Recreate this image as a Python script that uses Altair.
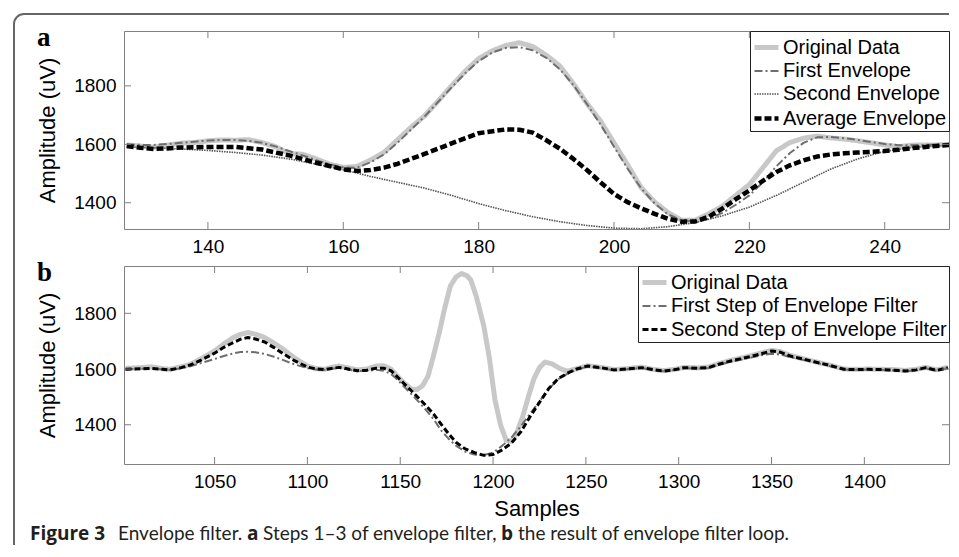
import altair as alt
import pandas as pd

# ---------------- Panel a data ----------------
A_X = list(range(128, 251, 2))
A_ORIG = [1598, 1594, 1590, 1597, 1604, 1606, 1612, 1615, 1614, 1616,
          1606, 1592, 1568, 1566, 1550, 1532, 1521, 1524, 1546, 1572,
          1615, 1658, 1697, 1748, 1800, 1850, 1893, 1920, 1938, 1948,
          1935, 1905, 1868, 1808, 1740, 1680, 1605, 1530, 1452, 1403,
          1366, 1340, 1340, 1362, 1388, 1425, 1462, 1520, 1578, 1606,
          1621, 1628, 1622, 1618, 1612, 1605, 1598, 1592, 1597, 1598,
          1598, 1600]
A_FIRST = [1600, 1598, 1598, 1601, 1605, 1609, 1613, 1615, 1615, 1612,
           1605, 1593, 1577, 1562, 1546, 1531, 1521, 1520, 1538, 1565,
           1605, 1650, 1695, 1745, 1795, 1843, 1885, 1914, 1930, 1933,
           1922, 1896, 1857, 1803, 1738, 1668, 1592, 1517, 1450, 1398,
           1360, 1340, 1336, 1345, 1365, 1393, 1425, 1470, 1525, 1570,
           1605, 1624, 1625, 1621, 1615, 1608, 1601, 1597, 1597, 1598,
           1599, 1600]
A_SECOND_X = [128, 132, 136, 140, 144, 148, 152, 156, 160, 164, 168, 172,
              176, 180, 184, 188, 192, 196, 200, 204, 208, 212, 216, 220,
              224, 228, 232, 236, 240, 244, 248, 250]
A_SECOND = [1591, 1588, 1584, 1579, 1572, 1563, 1550, 1532, 1513, 1490,
            1470, 1450, 1425, 1397, 1373, 1352, 1335, 1322, 1313, 1311,
            1318, 1332, 1355, 1385, 1425, 1470, 1515, 1550, 1576, 1589,
            1595, 1597]
A_AVG_X = [128, 130, 132, 134, 136, 140, 144, 148, 152, 156, 160, 162, 164,
           166, 168, 172, 176, 180, 184, 186, 188, 190, 192, 194, 196, 198,
           200, 202, 204, 206, 208, 210, 212, 214, 216, 218, 220, 222, 224,
           226, 228, 230, 232, 234, 236, 238, 240, 242, 244, 246, 248, 250]
A_AVG = [1594, 1588, 1584, 1586, 1589, 1591, 1591, 1582, 1562, 1537, 1514,
         1509, 1512, 1520, 1533, 1567, 1603, 1638, 1651, 1650, 1640, 1614,
         1585, 1550, 1512, 1470, 1430, 1402, 1381, 1362, 1345, 1335, 1336,
         1352, 1380, 1412, 1442, 1475, 1505, 1528, 1545, 1558, 1565, 1569,
         1572, 1574, 1577, 1581, 1587, 1591, 1595, 1598]
A_NAMES = ["Original Data", "First Envelope", "Second Envelope", "Average Envelope"]
A_XTICKS = [140, 160, 180, 200, 220, 240]

# ---------------- Panel b data ----------------
B_ORIG_X = [1002, 1010, 1016, 1022, 1026, 1032, 1037, 1043, 1050, 1055, 1060,
            1064, 1068, 1072, 1077, 1082, 1087, 1093, 1100, 1105, 1109, 1113,
            1117, 1122, 1127, 1132, 1137, 1141, 1145, 1148, 1152, 1156, 1159,
            1162, 1165, 1168, 1171, 1174, 1177, 1180, 1183, 1186, 1188, 1191,
            1195, 1198, 1201, 1204, 1207, 1210, 1213, 1216, 1219, 1222, 1225,
            1228, 1232, 1236, 1240, 1245, 1251, 1258, 1265, 1272, 1280, 1286,
            1292, 1298, 1303, 1310, 1316, 1322, 1328, 1334, 1339, 1345, 1350,
            1355, 1360, 1367, 1375, 1382, 1389, 1395, 1402, 1409, 1416, 1422,
            1428, 1433, 1439, 1445]
B_ORIG = [1602, 1605, 1608, 1601, 1599, 1608, 1617, 1638, 1665, 1690, 1713,
          1725, 1731, 1725, 1713, 1693, 1671, 1640, 1611, 1601, 1599, 1606,
          1611, 1604, 1597, 1600, 1611, 1612, 1600, 1578, 1550, 1528, 1526,
          1540, 1575, 1650, 1730, 1820, 1898, 1930, 1943, 1935, 1920, 1860,
          1755, 1640, 1490, 1400, 1345, 1340, 1375, 1430, 1500, 1565, 1605,
          1625, 1618, 1602, 1592, 1601, 1612, 1606, 1598, 1601, 1607, 1599,
          1594, 1599, 1606, 1604, 1607, 1620, 1631, 1640, 1648, 1658, 1667,
          1662, 1649, 1637, 1624, 1613, 1600, 1599, 1600, 1599, 1598, 1595,
          1599, 1606, 1597, 1606]
B_FIRST_X = [1002, 1010, 1016, 1022, 1026, 1032, 1037, 1043, 1050, 1055, 1060,
             1064, 1068, 1072, 1077, 1082, 1087, 1093, 1100, 1105, 1109, 1113,
             1117, 1122, 1127, 1132, 1137, 1141, 1145, 1148, 1152, 1156, 1160,
             1164, 1168, 1172, 1176, 1180, 1185, 1190, 1195, 1200, 1205, 1210,
             1215, 1220, 1225, 1230, 1235, 1240, 1245, 1251, 1258, 1265, 1272,
             1280, 1286, 1292, 1298, 1303, 1310, 1316, 1322, 1328, 1334, 1339,
             1345, 1350, 1355, 1360, 1367, 1375, 1382, 1389, 1395, 1402, 1409,
             1416, 1422, 1428, 1433, 1439, 1445]
B_FIRST = [1599, 1601, 1602, 1599, 1597, 1603, 1610, 1622, 1636, 1647, 1656,
           1661, 1662, 1660, 1654, 1644, 1632, 1617, 1603, 1598, 1597, 1601,
           1604, 1598, 1593, 1594, 1597, 1594, 1582, 1565, 1537, 1510, 1482,
           1452, 1420, 1380, 1350, 1325, 1303, 1293, 1291, 1300, 1325, 1355,
           1395, 1440, 1484, 1528, 1563, 1583, 1598, 1609, 1604, 1596, 1599,
           1604, 1597, 1592, 1597, 1603, 1602, 1604, 1616, 1626, 1634, 1641,
           1650, 1655, 1652, 1643, 1633, 1621, 1610, 1598, 1597, 1598, 1597,
           1595, 1592, 1596, 1603, 1594, 1604]
B_SECOND_X = B_FIRST_X
B_SECOND = [1599, 1601, 1602, 1599, 1597, 1605, 1615, 1633, 1657, 1678, 1695,
            1707, 1713, 1708, 1697, 1677, 1655, 1630, 1607, 1600, 1598, 1602,
            1606, 1600, 1594, 1596, 1603, 1603, 1594, 1575, 1548, 1522, 1495,
            1468, 1438, 1402, 1368, 1337, 1313, 1300, 1290, 1293, 1310, 1335,
            1375, 1430, 1480, 1530, 1565, 1585, 1600, 1611, 1605, 1597, 1600,
            1605, 1598, 1593, 1598, 1605, 1603, 1605, 1618, 1629, 1638, 1645,
            1656, 1665, 1660, 1647, 1636, 1623, 1612, 1599, 1598, 1599, 1598,
            1596, 1593, 1597, 1605, 1595, 1605]
B_NAMES = ["Original Data", "First Step of Envelope Filter", "Second Step of Envelope Filter"]
B_XTICKS = [1050, 1100, 1150, 1200, 1250, 1300, 1350, 1400]

YTICKS = [1400, 1600, 1800]

CAPTION_TEXT = ["Figure 3", "Envelope filter.", "a", "Steps 1\u20133 of envelope filter,",
                "b", "the result of envelope filter loop."]

# ---------------- styling ----------------
W, H = 825, 198
FONT = "Liberation Sans"
FRAME = "#808080"
BORDER = "#666666"
CAPTION_BOLD = [True, False, True, False, True, False]
CAPTION_X = [-94, -6, 123, 139, 377, 394]


def make_panel(series, names, colors, dashes, widths, xdom, ydom, xticks,
               xtitle, letter, extra):
    rows = []
    for name, xs, ys in series:
        rows += [{"sample": x, "amp": y, "series": name} for x, y in zip(xs, ys)]
    df = pd.DataFrame(rows)
    xsc = alt.Scale(domain=xdom, nice=False, zero=False)
    ysc = alt.Scale(domain=ydom, nice=False, zero=False)
    leg = alt.Legend(title=None, orient="top-right", offset=0, padding=2,
                     strokeColor="#222222", fillColor="white",
                     symbolType="stroke", symbolSize=576, rowPadding=0,
                     labelOffset=2, labelFont=FONT, labelFontSize=20,
                     labelColor="black", labelLimit=500)
    xaxis_kw = dict(values=xticks, format="d", ticks=False, domain=False,
                    grid=False, labelPadding=8, labelFontSize=19,
                    labelFont=FONT, labelColor="black")
    if xtitle:
        xaxis = alt.Axis(title=xtitle, titleFont=FONT, titleFontSize=22,
                         titleFontWeight="normal", titleColor="black",
                         titleBaseline="alphabetic", titleY=51, **xaxis_kw)
    else:
        xaxis = alt.Axis(title=None, **xaxis_kw)
    yaxis = alt.Axis(values=YTICKS, format="d", title="Amplitude (uV)",
                     ticks=False, domain=False, grid=False, labelPadding=8,
                     labelFontSize=19, labelFont=FONT, labelColor="black",
                     titleFont=FONT, titleFontSize=22, titleFontWeight="normal",
                     titleColor="black", titleAngle=270, titleX=-70,
                     titleY=H / 2, titleAlign="center",
                     titleBaseline="alphabetic")
    base = alt.Chart(df).mark_line(clip=True, strokeCap="butt", strokeJoin="round").encode(
        x=alt.X("sample:Q", scale=xsc, axis=xaxis),
        y=alt.Y("amp:Q", scale=ysc, axis=yaxis),
        color=alt.Color("series:N", scale=alt.Scale(domain=names, range=colors), legend=leg),
        strokeDash=alt.StrokeDash("series:N", scale=alt.Scale(domain=names, range=dashes), legend=leg),
        strokeWidth=alt.StrokeWidth("series:N", scale=alt.Scale(type="ordinal", domain=names, range=widths), legend=leg),
    )
    layers = [base.transform_filter(alt.datum.series == n) for n in names]

    xt = pd.DataFrame({"sample": xticks})
    yt = pd.DataFrame({"amp": YTICKS})
    tk = dict(color=FRAME, strokeWidth=1)
    layers.append(alt.Chart(xt).mark_rule(**tk).encode(
        x=alt.X("sample:Q", scale=xsc, axis=xaxis), y=alt.value(H), y2=alt.value(H - 7)))
    layers.append(alt.Chart(xt).mark_rule(**tk).encode(
        x=alt.X("sample:Q", scale=xsc, axis=xaxis), y=alt.value(0), y2=alt.value(7)))
    layers.append(alt.Chart(yt).mark_rule(**tk).encode(
        y=alt.Y("amp:Q", scale=ysc, axis=yaxis), x=alt.value(0), x2=alt.value(7)))
    layers.append(alt.Chart(yt).mark_rule(**tk).encode(
        y=alt.Y("amp:Q", scale=ysc, axis=yaxis), x=alt.value(W), x2=alt.value(W - 7)))

    layers.append(alt.Chart(pd.DataFrame({"lab": [letter]})).mark_text(
        font="Liberation Serif", fontWeight="bold", fontSize=27, align="left",
        baseline="alphabetic", color="black").encode(
        text="lab:N", x=alt.value(-87), y=alt.value(15)))
    layers += extra
    return alt.layer(*layers).properties(width=W, height=H)


one = pd.DataFrame({"k": [0]})
border = [
    alt.Chart(one).mark_rule(color=BORDER, strokeWidth=2).encode(
        x=alt.value(-100), x2=alt.value(825), y=alt.value(-17)),
    alt.Chart(one).mark_rule(color=BORDER, strokeWidth=2).encode(
        x=alt.value(-110), y=alt.value(-7), y2=alt.value(514)),
    alt.Chart(one).mark_arc(color=BORDER).encode(
        x=alt.value(-100), y=alt.value(-7), theta=alt.value(4.7124),
        theta2=alt.value(6.2832), radius=alt.value(11), radius2=alt.value(9)),
]

caption = []
for txt, bold, cx in zip(CAPTION_TEXT, CAPTION_BOLD, CAPTION_X):
    caption.append(alt.Chart(pd.DataFrame({"c": [txt]})).mark_text(
        font="Open Sans" if bold else "Lato", fontSize=19,
        fontWeight="bold" if bold else "normal",
        align="left", baseline="alphabetic", color="#231f20").encode(
        text="c:N", x=alt.value(cx), y=alt.value(274)))

panel_a = make_panel(
    [("Original Data", A_X, A_ORIG), ("First Envelope", A_X, A_FIRST),
     ("Second Envelope", A_SECOND_X, A_SECOND), ("Average Envelope", A_AVG_X, A_AVG)],
    A_NAMES, ["#c8c8c8", "#6e6e6e", "#555555", "#000000"],
    [[1, 0], [8, 3, 2, 3], [1.5, 1], [7, 3]], [5, 2, 1.6, 4.5],
    [127.6, 249.5], [1310, 1988], A_XTICKS, None, "a", border)

panel_b = make_panel(
    [("Original Data", B_ORIG_X, B_ORIG),
     ("First Step of Envelope Filter", B_FIRST_X, B_FIRST),
     ("Second Step of Envelope Filter", B_SECOND_X, B_SECOND)],
    B_NAMES, ["#c8c8c8", "#6e6e6e", "#000000"],
    [[1, 0], [8, 3, 2, 3], [6, 3]], [5, 2, 3],
    [1001.2, 1445.6], [1259, 1970], B_XTICKS, "Samples", "b", caption)

chart = alt.vconcat(panel_a, panel_b, spacing=37, bounds="flush").resolve_scale(
    x="independent", y="independent", color="independent",
    strokeDash="independent", strokeWidth="independent"
).resolve_legend(
    color="independent", strokeDash="independent", strokeWidth="independent"
).properties(
    padding={"left": 4, "top": 4, "right": 0, "bottom": 0}
).configure_view(stroke=FRAME, strokeWidth=1)

chart.save("out.html", embed_options={"renderer": "svg", "actions": False})
